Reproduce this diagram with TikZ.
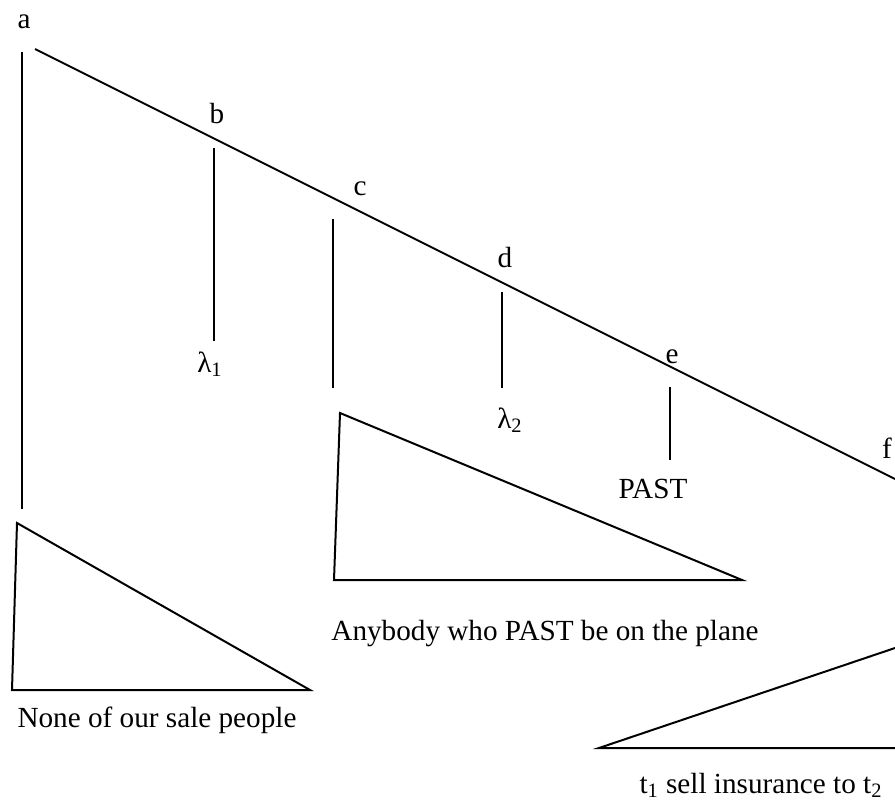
\documentclass[tikz,border=0pt]{standalone}
\usepackage{fontspec}
\setmainfont{Liberation Serif}
\usetikzlibrary{positioning}

\tikzset{
  lbl/.style={inner sep=0pt, anchor=base, font=\fontsize{14.6}{17}\selectfont},
  stem/.style={line width=1pt},
  tri/.style={line width=1pt, line join=miter}
}

\begin{document}
\begin{tikzpicture}[x=0.5pt,y=-0.5pt]
\useasboundingbox (0,0) rectangle (895,803);

%node labels on the spine
\node[lbl] (a) at (24,28) {a};
\node[lbl] (b) at (217,123) {b};
\node[lbl] (c) at (360,195) {c};
\node[lbl] (d) at (505,267) {d};
\node[lbl] (e) at (672,363) {e};
\node[lbl] (f) at (887,458) {f};

%leaves
\node[lbl] (lamA) at (210,372) {λ\textsubscript{1}};
\node[lbl] (lamB) at (510,428) {λ\textsubscript{2}};
\node[lbl] (past) at (653,498) {PAST};
\node[lbl] (none) at (157,727) {None of our sale people};
\node[lbl] (any) at (545,640) {Anybody who PAST be on the plane};
\node[lbl] (sell) at (761,793) {t\textsubscript{1} sell insurance to t\textsubscript{2}};

%spine from a down to f (runs off the edge)
\coordinate (spineA) at (35,49);
\coordinate (spineF) at (895,479);
\draw[stem] (spineA) -- (spineF);

%left daughters
\coordinate (aTop) at (22,52);   \coordinate (aBot) at (22,509);
\coordinate (bTop) at (214,148); \coordinate (bBot) at (214,341);
\coordinate (cTop) at (333,219); \coordinate (cBot) at (333,388);
\coordinate (dTop) at (502,292); \coordinate (dBot) at (502,388);
\coordinate (eTop) at (670,387); \coordinate (eBot) at (670,460);
\draw[stem] (aTop) -- (aBot);
\draw[stem] (bTop) -- (bBot);
\draw[stem] (cTop) -- (cBot);
\draw[stem] (dTop) -- (dBot);
\draw[stem] (eTop) -- (eBot);

%triangles
\coordinate (triA) at (17,523);  \coordinate (triAl) at (12,690);  \coordinate (triAr) at (310,690);
\coordinate (triB) at (340,413); \coordinate (triBl) at (334,580); \coordinate (triBr) at (742,580);
\coordinate (triCt) at (895,648); \coordinate (triCl) at (599,748); \coordinate (triCr) at (895,748);
\draw[tri] (triA) -- (triAl) -- (triAr) -- cycle;
\draw[tri] (triB) -- (triBl) -- (triBr) -- cycle;
\draw[tri] (triCt) -- (triCl) -- (triCr);

\end{tikzpicture}
\end{document}
